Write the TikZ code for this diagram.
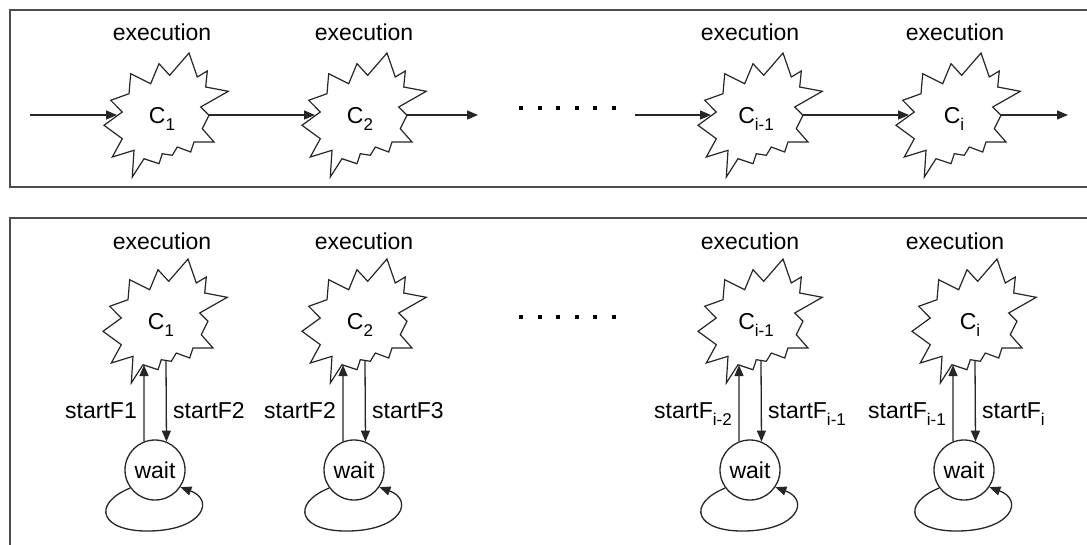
\documentclass[tikz,border=0pt]{standalone}
\usepackage{fontspec}
\setmainfont{Liberation Sans}
\usetikzlibrary{arrows.meta,calc}
\newcommand\sbs[1]{\raisebox{-7pt}{\fontsize{17}{17}\selectfont #1}}
\begin{document}
\begin{tikzpicture}[x=1pt,y=-1pt,
  lbl/.style={font=\fontsize{23}{27}\selectfont, inner sep=0pt},
  ln/.style={line width=1.3pt, black!85},
  arr/.style={ln, -{Triangle[length=11pt,width=9pt]}},
  frame/.style={line width=2pt, black!70},
  waitnode/.style={circle, draw, line width=1.3pt, black!85, text=black, minimum size=60pt, inner sep=0pt, font=\fontsize{23}{27}\selectfont},
  burst/.pic={\draw[line width=1.2pt, black!85, fill=white, line join=miter]
    (23,-62) -- (31.3,-38) -- (41.3,-44) -- (39.7,-28) -- (62.3,-23.7) -- (34.7,-8) -- (43,0.3) -- (36.3,13.7) -- (48,27) -- (28,27) -- (24.7,37) -- (11.3,32) -- (6.3,40.3) -- (-3.7,38.7) -- (-7,48.7) -- (-22,43.7) -- (-33.7,62) -- (-32,35.3) -- (-53.7,42) -- (-43.7,23.7) -- (-62,10.3) -- (-43.7,-3) -- (-55.3,-14.7) -- (-37,-21.3) -- (-35.3,-41.3) -- (-15.3,-31.3) -- (-7,-51.3) -- (3.7,-39.7) -- cycle;}
]
\useasboundingbox (0,0) rectangle (1087,544);
\clip (0,0) rectangle (1087,544);
\draw[frame] (10,10) rectangle (1100,187);
\draw[frame] (10,218) rectangle (1100,560);

% top row
\foreach \n/\cx/\ex/\sub in {1/166/162/1, 2/364/364/2, 3/760/750/{i-1}, 4/958/955/i} {
  \pic at (\cx,115) {burst};
  \node[lbl,anchor=base] (tc\n) at (\cx-4,123) {C\sbs{\sub}};
  \node[lbl,anchor=base] (te\n) at (\ex,40) {execution};
  \coordinate (ti\n) at (\cx-49,115);
  \coordinate (to\n) at (\cx+43,115);
}
\coordinate (s0) at (30,115);
\coordinate (e2) at (478,115);
\coordinate (s3) at (635,115);
\coordinate (e4) at (1068,115);
\draw[arr] (s0) -- (ti1);
\draw[arr] (to1) -- (ti2);
\draw[arr] (to2) -- (e2);
\draw[arr] (s3) -- (ti3);
\draw[arr] (to3) -- (ti4);
\draw[arr] (to4) -- (e4);

% bottom row
\foreach \n/\cx/\ex/\sub/\la/\lb in {
  1/165/162/1/{startF1}/{startF2},
  2/364/364/2/{startF2}/{startF3},
  3/760/750/{i-1}/{startF\sbs{i-2}}/{startF\sbs{i-1}},
  4/974/955/i/{startF\sbs{i-1}}/{startF\sbs{i}}} {
  \pic at (\cx,321) {burst};
  \node[lbl,anchor=base] (bc\n) at (\cx-4,329) {C\sbs{\sub}};
  \node[lbl,anchor=base] (be\n) at (\ex,249) {execution};
  \node[waitnode] (w\n) at (\cx-10,470) {wait};
  \coordinate (bu\n) at (\cx-21,365);
  \coordinate (bd\n) at (\cx+1,361);
  \draw[arr] (w\n.111.5) -- (bu\n);
  \draw[arr] (bd\n) -- (w\n.68.5);
  \node[lbl,anchor=base east] (la\n) at (\cx-28,418) {\la};
  \node[lbl,anchor=base west] (lb\n) at (\cx+8,418) {\lb};
  \draw[arr] (w\n.216.5) .. controls ($(w\n)+(-64,34)$) and ($(w\n)+(-55,62)$) .. ($(w\n)+(-5,61)$) .. controls ($(w\n)+(48,60)$) and ($(w\n)+(60,30)$) .. (w\n.326);
}

% dots
\foreach \x in {521,539.5,558,576.5,595,613.5} {
  \fill (\x-2,106) rectangle (\x+2,110);
  \fill (\x-2,315) rectangle (\x+2,319);
}
\end{tikzpicture}
\end{document}
